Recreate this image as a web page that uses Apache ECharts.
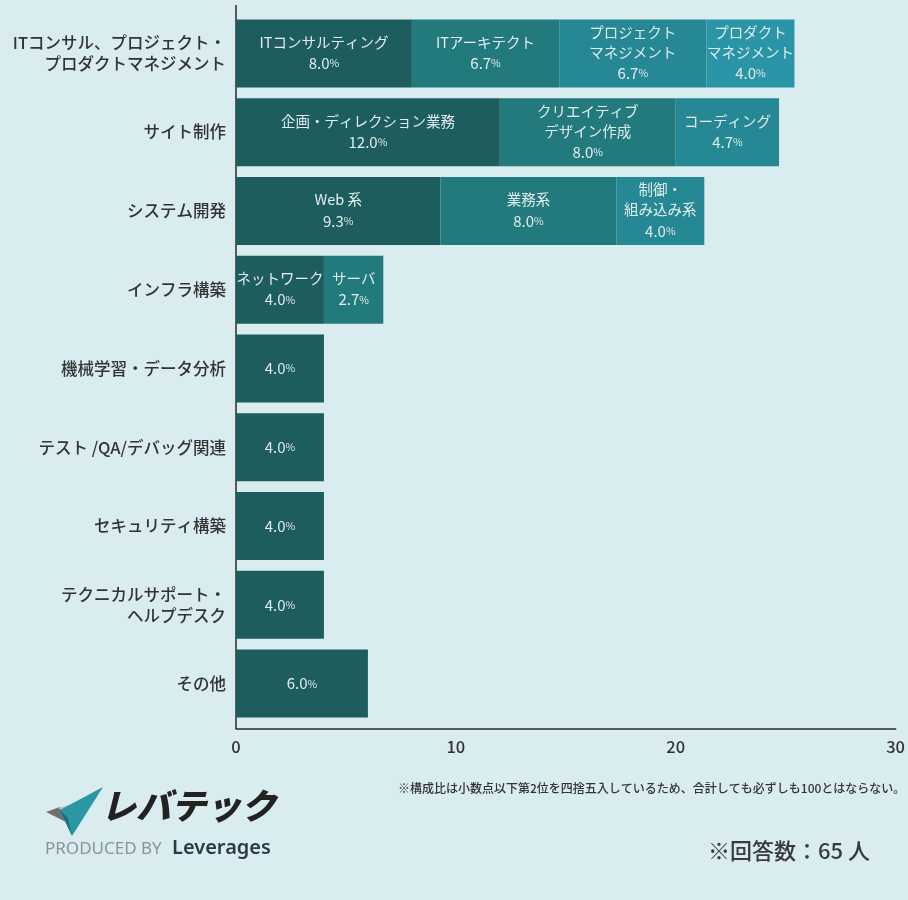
<!DOCTYPE html>
<html>
<head>
<meta charset="utf-8">
<script src="https://cdn.jsdelivr.net/npm/echarts@6/dist/echarts.min.js"></script>
<style>
html,body{margin:0;padding:0;background:#d9ecf0;}
#chart{width:908px;height:900px;}
</style>
</head>
<body>
<div id="chart"></div>
<script>
const categories = [
  'ITコンサル、プロジェクト・\nプロダクトマネジメント',
  'サイト制作',
  'システム開発',
  'インフラ構築',
  '機械学習・データ分析',
  'テスト /QA/デバッグ関連',
  'セキュリティ構築',
  'テクニカルサポート・\nヘルプデスク',
  'その他'
];
const seg1Values = [8.0, 12.0, 9.3, 4.0, 4.0, 4.0, 4.0, 4.0, 6.0];
const seg1Names  = ['ITコンサルティング', '企画・ディレクション業務', 'Web 系', 'ネットワーク', '', '', '', '', ''];
const seg2Values = [6.7, 8.0, 8.0, 2.7, null, null, null, null, null];
const seg2Names  = ['ITアーキテクト', 'クリエイティブ\nデザイン作成', '業務系', 'サーバ', '', '', '', '', ''];
const seg3Values = [6.7, 4.7, 4.0, null, null, null, null, null, null];
const seg3Names  = ['プロジェクト\nマネジメント', 'コーディング', '制御・\n組み込み系', '', '', '', '', '', ''];
const seg4Values = [4.0, null, null, null, null, null, null, null, null];
const seg4Names  = ['プロダクト\nマネジメント', '', '', '', '', '', '', '', ''];
const xTicks = { min: 0, max: 30, interval: 10 };

const FONT = '"Noto Sans CJK JP", "Noto Sans", sans-serif';
const segColors = ['#1e5d5e', '#237a7c', '#268795', '#2a95a7'];

function makeSeries(values, names, color) {
  return {
    type: 'bar',
    stack: 'total',
    barWidth: 68,
    data: values,
    itemStyle: { color: color },
    label: {
      show: true,
      position: 'inside',
      fontFamily: FONT,
      formatter: function (p) {
        if (p.value == null) return '';
        const nm = names[p.dataIndex];
        const v = '{v|' + Number(p.value).toFixed(1) + '}{p|%}';
        if (!nm) return v;
        return nm.split('\n').map(s => '{n|' + s + '}').join('\n') + '\n' + v;
      },
      rich: {
        n: { fontFamily: FONT, fontSize: 14.5, color: '#e2eded', lineHeight: 20, fontWeight: 400 },
        v: { fontFamily: FONT, fontSize: 15, color: '#e2eded', lineHeight: 22, fontWeight: 400 },
        p: { fontFamily: FONT, fontSize: 10.5, color: '#e2eded', lineHeight: 22, fontWeight: 400 }
      }
    }
  };
}

const chart = echarts.init(document.getElementById('chart'));
chart.setOption({
  backgroundColor: '#d9ecf0',
  animation: false,
  grid: { left: 236, right: 12, top: 14, height: 709 },
  xAxis: {
    type: 'value',
    min: xTicks.min, max: xTicks.max, interval: xTicks.interval,
    offset: 6,
    axisLine: { show: true, lineStyle: { color: '#2b2b2b', width: 1.5 } },
    axisTick: { show: false },
    splitLine: { show: false },
    axisLabel: { fontFamily: FONT, fontSize: 16.5, color: '#333', fontWeight: 500, margin: 9 }
  },
  yAxis: {
    type: 'category',
    inverse: true,
    data: categories,
    axisLine: { show: false },
    axisTick: { show: false },
    axisLabel: { fontFamily: FONT, fontSize: 16.5, color: '#333', fontWeight: 500, margin: 10, lineHeight: 21, align: 'right' }
  },
  series: [
    makeSeries(seg1Values, seg1Names, segColors[0]),
    makeSeries(seg2Values, seg2Names, segColors[1]),
    makeSeries(seg3Values, seg3Names, segColors[2]),
    makeSeries(seg4Values, seg4Names, segColors[3])
  ],
  graphic: [
    { type: 'line', shape: { x1: 236, y1: 5, x2: 236, y2: 729 }, style: { stroke: '#2b2b2b', lineWidth: 1.5 } },
    { type: 'text', left: 398, top: 782, style: { text: '※構成比は小数点以下第2位を四捨五入しているため、合計しても必ずしも100とはならない。', font: '500 12px ' + FONT, fill: '#333' } },
    { type: 'text', left: 708, top: 840, style: { text: '※回答数：65 人', font: '500 22px ' + FONT, fill: '#3a3a3a' } },
    // logo
    { type: 'polygon', shape: { points: [[46, 812], [60, 807], [66, 822]] }, style: { fill: '#6f6f6f' } },
    { type: 'polygon', shape: { points: [[58, 808], [88, 799], [68, 814]] }, style: { fill: '#d8b9bb' } },
    { type: 'polygon', shape: { points: [[103, 787], [72, 836], [60, 810]] }, style: { fill: '#2a98a2' } },
    { type: 'polygon', shape: { points: [[60, 810], [72, 836], [68, 818]] }, style: { fill: '#1e6f78' } },
    { type: 'text', left: 101, top: 788, style: { text: 'レバテック', font: 'italic 900 35px ' + FONT, fill: '#222' } },
    { type: 'text', left: 45, top: 841, style: { text: 'PRODUCED BY', font: '400 17px "Noto Sans", sans-serif', fill: '#8b9496' } },
    { type: 'text', left: 172, top: 838, style: { text: 'Leverages', font: '600 20px "Noto Sans", sans-serif', fill: '#2c3a45' } }
  ]
});
</script>
</body>
</html>
